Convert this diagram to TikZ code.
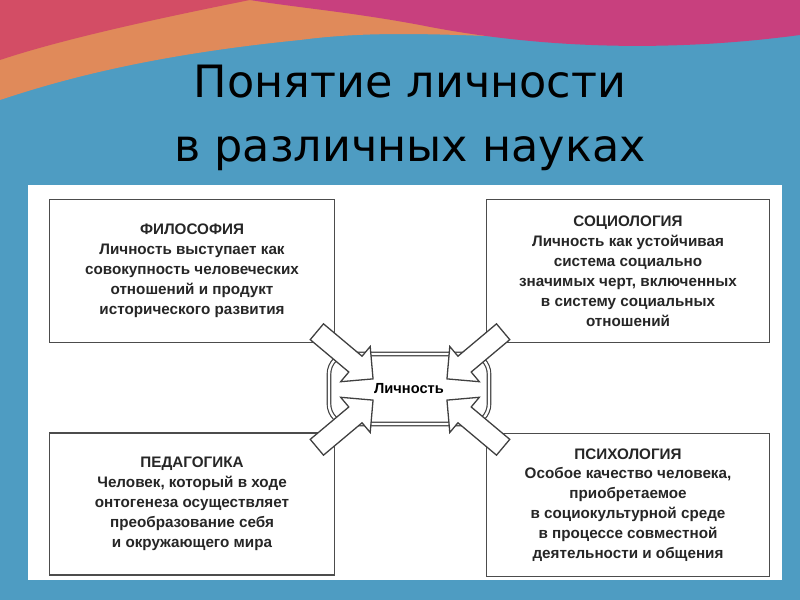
\documentclass[tikz,border=0pt]{standalone}
\usepackage{fontspec}
\setmainfont{Liberation Sans}
\newfontfamily\titlefont{DejaVu Sans}
\usetikzlibrary{shapes.arrows}
\definecolor{bgblue}{HTML}{4E9CC2}
\definecolor{wavepink}{HTML}{C8407E}
\definecolor{waveorange}{HTML}{E08A5A}
\tikzset{
	science/.style={draw=black!70, line width=1.2pt, fill=white, align=center,
		font=\fontsize{13}{17}\selectfont\bfseries, text=black!85},
	push/.style={single arrow, draw=black!75, line width=1.1pt, fill=white,
		minimum height=2.2cm, single arrow head extend=0.38cm,
		single arrow head indent=0cm, inner xsep=0pt, inner ysep=0.29cm}
}
\begin{document}
\begin{tikzpicture}[x=0.03cm, y=-0.03cm]
	% Hintergrund
	\fill[bgblue] (0,0) rectangle (800,600);
	\fill[waveorange] (0,0) -- (800,0) -- (800,20) .. controls (600,60) and (450,20) .. (300,40)
		.. controls (150,55) and (60,80) .. (0,100) -- cycle;
	\fill[wavepink] (250,0) -- (800,0) -- (800,35) .. controls (650,55) and (520,45) .. (420,25)
		.. controls (350,12) and (300,8) .. (250,0) -- cycle;
	\fill[wavepink!80!orange] (0,0) -- (250,0) .. controls (150,20) and (60,40) .. (0,60) -- cycle;
	\useasboundingbox (0,0) rectangle (800,600);
	% Titel
	\node[align=center, font=\titlefont\fontsize{38}{54}\selectfont] (title) at (410,118)
		{Понятие личности\\в различных науках};
	% Tafel
	\fill[white] (28,185) rectangle (782,580);
	% Wissenschaften
	\node[science, minimum width=8.55cm, minimum height=4.3cm] (phil) at (192,271)
		{ФИЛОСОФИЯ\\Личность выступает как\\совокупность человеческих\\отношений и продукт\\исторического развития};
	\node[science, minimum width=8.5cm, minimum height=4.3cm] (soc) at (628,271)
		{СОЦИОЛОГИЯ\\Личность как устойчивая\\система социально\\значимых черт, включенных\\в систему социальных\\отношений};
	\node[science, minimum width=8.55cm, minimum height=4.25cm] (ped) at (192,504)
		{ПЕДАГОГИКА\\Человек, который в ходе\\онтогенеза осуществляет\\преобразование себя\\и окружающего мира};
	\node[science, minimum width=8.5cm, minimum height=4.3cm] (psy) at (628,505)
		{ПСИХОЛОГИЯ\\Особое качество человека,\\приобретаемое\\в социокультурной среде\\в процессе совместной\\деятельности и общения};
	% Mitte
	\node[draw=black!75, double, double distance=2pt, line width=1pt, rounded corners=0.6cm,
		fill=white, minimum width=4.8cm, minimum height=2.1cm,
		font=\fontsize{12.5}{15}\selectfont\bfseries] (pers) at (409,389) {Личность};
	% Pfeile
	\node[push, rotate=-40] (a1) at (341,352) {};
	\node[push, rotate=220] (a2) at (479,352) {};
	\node[push, rotate=40] (a3) at (341,427) {};
	\node[push, rotate=140] (a4) at (479,427) {};
\end{tikzpicture}
\end{document}
